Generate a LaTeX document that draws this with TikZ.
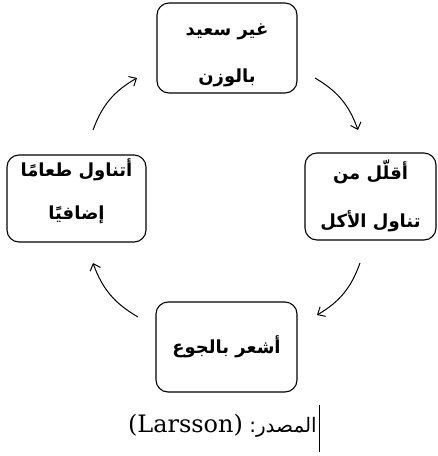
\documentclass[tikz,border=0pt]{standalone}
\usepackage{fontspec}
\TeXXeTstate=1
\newfontfamily\arabicfont[Script=Arabic]{DejaVu Sans}
\newfontfamily\arabicbold[Script=Arabic]{DejaVu Sans Bold}
\newfontfamily\latinserif{DejaVu Serif}
\newcommand{\boxfont}{\arabicbold\fontsize{18}{18}\selectfont}
\usetikzlibrary{arrows.meta}
\begin{document}
\begin{tikzpicture}[x=1pt,y=-1pt,
  stage/.style={draw, line width=1.1pt, rounded corners=12pt, minimum width=#1, inner sep=0pt},
  cyc/.style={-{Straight Barb[length=6pt,width=11pt]}, line width=1pt, bend left=20}]
\useasboundingbox (0,0) rectangle (438,456);
\node[stage=140pt, minimum height=90pt] (top) at (227,48)
  {\boxfont\raisebox{-7pt}[\height][\depth]{\begin{tabular}{c}\beginR غير سعيد\endR\\[28pt]\beginR بالوزن\endR\end{tabular}}};
\node[stage=131pt, minimum height=87pt] (right) at (370.5,196.5)
  {\boxfont\begin{tabular}{c}\beginR أقلّل من\endR\\[25pt]\beginR تناول الأكل\endR\end{tabular}};
\node[stage=141pt, minimum height=90pt] (bottom) at (226.5,347)
  {\boxfont\beginR أشعر بالجوع\endR};
\node[stage=139pt, minimum height=87pt] (left) at (76.5,198.5)
  {\boxfont\raisebox{7pt}[\height][\depth]{\begin{tabular}{c}\beginR أتناول طعامًا\endR\\[24pt]\beginR إضافيًا\endR\end{tabular}}};
\coordinate (a1) at (93,130); \coordinate (b1) at (137,78);
\coordinate (a2) at (315,78); \coordinate (b2) at (358,130);
\coordinate (a3) at (360,263); \coordinate (b3) at (317,315);
\coordinate (a4) at (138,317); \coordinate (b4) at (93,263);
\draw[cyc] (a1) to (b1);
\draw[cyc] (a2) to (b2);
\draw[cyc] (a3) to (b3);
\draw[cyc] (a4) to (b4);
\node[inner sep=0pt, anchor=east] (src) at (317,426)
  {\arabicfont\fontsize{20}{20}\selectfont\beginR المصدر:\ \beginL{\latinserif\fontsize{24}{24}\selectfont(Larsson)}\endL\endR};
\coordinate (c1) at (319,405); \coordinate (c2) at (319,452);
\draw[line width=1pt] (c1) -- (c2);
\end{tikzpicture}
\end{document}
